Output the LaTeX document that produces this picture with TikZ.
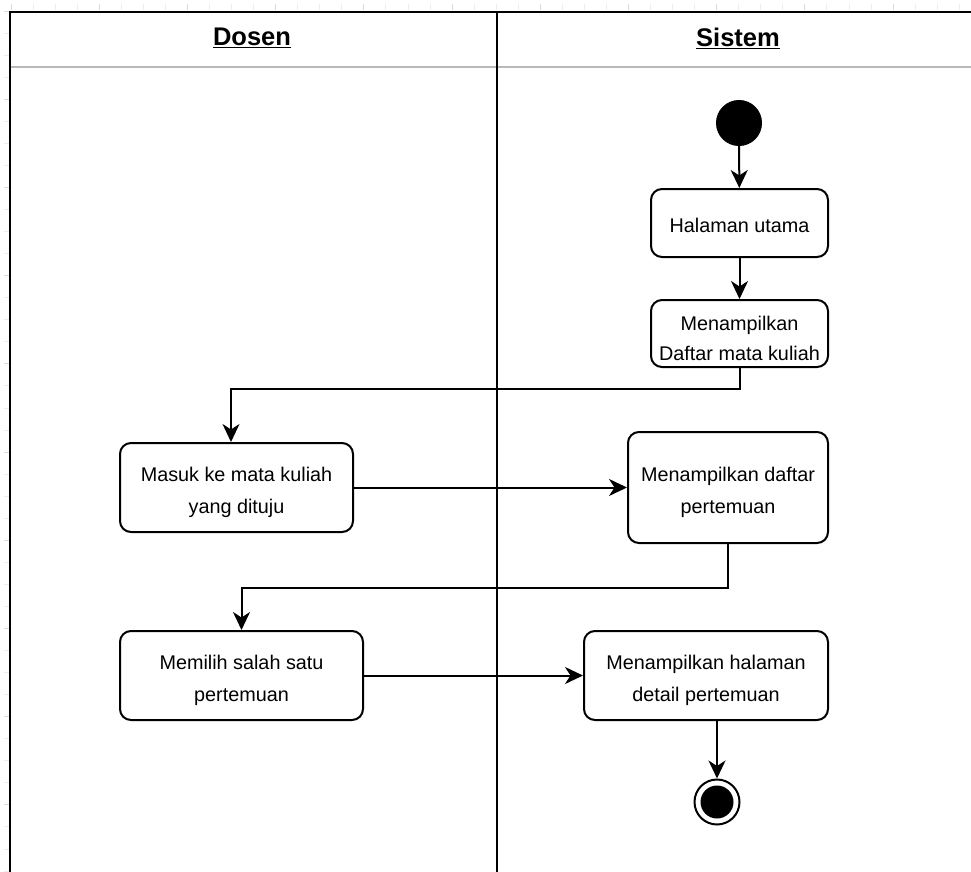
\documentclass[tikz,border=0pt]{standalone}
\usepackage{fontspec}
\setmainfont{Liberation Sans}
\usetikzlibrary{arrows.meta,positioning}

\tikzset{
  act/.style={draw=black, line width=2pt, rounded corners=11pt, fill=white,
    inner sep=0pt},
  acttext/.style={align=center, inner sep=0pt, yshift=-4.5pt,
    font=\fontsize{19.8}{32}\selectfont},
  flow/.style={draw=black, line width=2pt,
    -{Stealth[length=18pt,width=17pt,inset=5.5pt]}},
  lane/.style={draw=black, line width=2pt},
  lanehead/.style={font=\bfseries\fontsize{25.5}{30}\selectfont},
  gridtick/.style={draw=gray!14, line width=0.8pt},
  gridtickmajor/.style={draw=gray!28, line width=0.8pt}
}

\begin{document}
\begin{tikzpicture}[x=1pt, y=-1pt]
  \clip (0,0) rectangle (971,872);
  \useasboundingbox (0,0) rectangle (971,872);
  \fill[white] (0,0) rectangle (971,872);

  % faint canvas grid visible in the margins
  \foreach \i in {0,...,39} {
    \pgfmathsetmacro{\yy}{11+22.05*\i}
    \ifnum\numexpr\i-\i/4*4\relax=0
      \draw[gridtickmajor] (4,\yy) -- (9,\yy);
    \else
      \draw[gridtick] (4,\yy) -- (9,\yy);
    \fi
  }
  \foreach \i in {0,...,44} {
    \pgfmathsetmacro{\xx}{11+22.05*\i}
    \ifnum\numexpr\i-\i/4*4\relax=0
      \draw[gridtickmajor] (\xx,4) -- (\xx,10);
    \else
      \draw[gridtick] (\xx,4) -- (\xx,10);
    \fi
  }

  % swimlane frame
  \fill[white] (10,12) rectangle (990,890);
  \draw[draw=gray!55, line width=2.2pt] (10,67) -- (990,67);
  \draw[lane] (10,890) -- (10,12) -- (990,12);
  \draw[lane] (497,12) -- (497,890);

  \node[lanehead] (hdosen) at (252,38) {\underline{Dosen}};
  \node[lanehead] (hsistem) at (738,38) {\underline{Sistem}};

  % activity nodes
  \node[circle, fill=black, draw=black, line width=1pt, minimum size=45pt, inner sep=0pt] (start) at (739,123) {};
  \node[act, minimum width=177pt, minimum height=68pt,
        label={[acttext, yshift=2.5pt]center:Halaman utama}] (home) at (739.5,223) {};
  \node[act, minimum width=177pt, minimum height=67pt,
        label={[acttext, font=\fontsize{19.8}{30}\selectfont]center:Menampilkan\\Daftar mata kuliah}] (courses) at (739.5,333.5) {};
  \node[act, minimum width=233pt, minimum height=89pt,
        label={[acttext]center:Masuk ke mata kuliah\\yang dituju}] (enter) at (236.5,487.5) {};
  \node[act, minimum width=200pt, minimum height=111pt,
        label={[acttext]center:Menampilkan daftar\\pertemuan}] (meetings) at (728,487.5) {};
  \node[act, minimum width=243pt, minimum height=89pt,
        label={[acttext]center:Memilih salah satu\\pertemuan}] (choose) at (241.5,675.5) {};
  \node[act, minimum width=244pt, minimum height=89pt,
        label={[acttext]center:Menampilkan halaman\\detail pertemuan}] (detail) at (706,675.5) {};
  \node[circle, draw=black, line width=2pt, fill=white, minimum size=45pt, inner sep=0pt] (end) at (717,802) {};
  \fill[black] (end.center) circle (16.5);

  % control flow
  \draw[flow] (start) -- (home);
  \draw[flow] (home) -- (courses);
  \draw[flow] (courses.south) -- ++(0,21) -| ([xshift=-5.5pt]enter.north);
  \draw[flow] (enter) -- (meetings);
  \draw[flow] (meetings.south) -- ++(0,44) -| (choose.north);
  \draw[flow] (choose) -- (detail);
  \draw[flow] ([xshift=11pt]detail.south) -- (end);
\end{tikzpicture}
\end{document}
